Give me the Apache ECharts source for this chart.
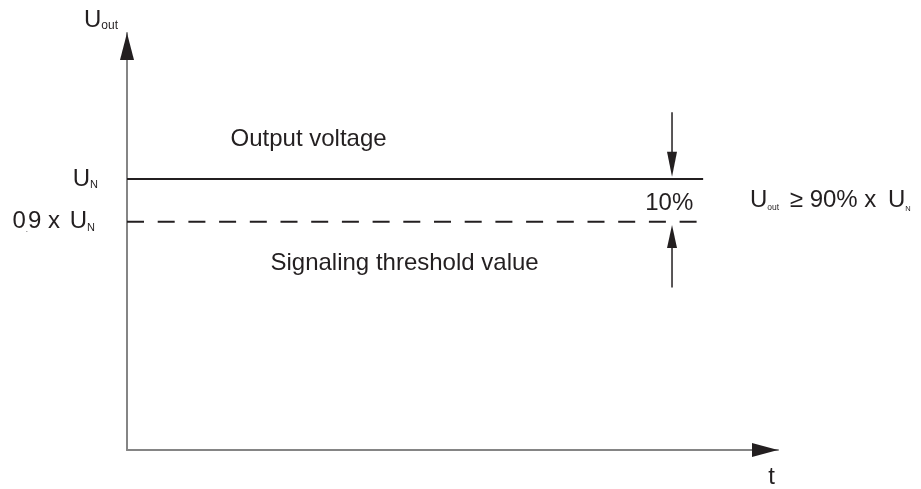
<!DOCTYPE html>
<html><head><meta charset="utf-8">
<script src="https://cdn.jsdelivr.net/npm/echarts@6/dist/echarts.min.js"></script>
<style>html,body{margin:0;padding:0;background:#fff}#c{width:921px;height:489px}</style>
</head><body><div id="c"></div>
<script>
// ---- Data (schematic units: time 0–100, voltage 0–100) ----
const tRange = [0, 100];
const uRange = [0, 100];
const levelValues = [54.75, 65];                 // 0.9 x U_N, U_N
const levelTickLabels = ['0.9 x U', 'U'];        // each followed by subscript N
const outputVoltage = [[0, 65], [88.5, 65]];
const signalingThreshold = [[0, 54.75], [87.55, 54.75]];
const markerShaftDown = [[83.72, 81.0], [83.72, 68.5]];
const markerShaftUp = [[83.72, 38.95], [83.72, 51.2]];
const markerHeadDown = [[83.72, 68.53]];
const markerHeadUp = [[83.72, 51.19]];
const yAxisHead = [[0, 96.77]];
const xAxisHead = [[98.0, 0]];
const timeLabelValues = [99.0];
const timeLabel = 't';
const yAxisTitle = ['U', 'out'];
const annotationTexts = ['Output voltage', 'Signaling threshold value', '10%'];
const conditionText = ['U', 'out', '\u2265', '90%', 'x', 'U', 'N'];

const FONT = "'Liberation Sans', Arial, Helvetica, sans-serif";
const INK = '#231f20';
const AXIS = '#858585';

const chart = echarts.init(document.getElementById('c'), null, {renderer: 'canvas'});

const richE = {
  u: {fontSize: 24, lineHeight: 24, fontFamily: FONT, color: INK},
  w: {fontSize: 24, lineHeight: 24, fontFamily: FONT, color: INK, padding: [0, 0, 0, 3]},
  s: {fontSize: 12, lineHeight: 12, fontFamily: FONT, color: INK, verticalAlign: 'bottom'},
  n: {fontSize: 11, lineHeight: 11, fontFamily: FONT, color: INK, verticalAlign: 'bottom'},
  m: {fontSize: 11, lineHeight: 11, fontFamily: FONT, color: INK, verticalAlign: 'bottom', padding: [0, 3, 0, 0]},
  d: {fontSize: 8, lineHeight: 8, fontFamily: FONT, color: INK, verticalAlign: 'bottom'}
};

function levelLabel(v) {
  const i = levelValues.indexOf(v);
  const txt = levelTickLabels[i];
  if (txt.indexOf('0.9') === 0) {
    const rest = txt.slice(2);               // '9 x U'
    const cut = rest.lastIndexOf(' ');
    return '{u|0}{d|.}{u|' + rest.slice(0, cut) + '}{w|' + rest.slice(cut) + '}{m|N}';
  }
  return '{u|' + txt + '}{n|N}';
}

const axisLine = {show: true, onZero: false, lineStyle: {color: AXIS, width: 2}};
const headStyle = {color: INK, opacity: 1};

chart.setOption({
  animation: false,
  backgroundColor: '#ffffff',
  grid: {left: 127, right: 143, top: 33, bottom: 35, containLabel: false},
  xAxis: {
    type: 'value', min: tRange[0], max: tRange[1],
    axisLine: axisLine, axisTick: {show: false}, splitLine: {show: false},
    axisLabel: {
      show: true, customValues: timeLabelValues, formatter: () => timeLabel,
      margin: 15, color: INK, fontSize: 24, fontFamily: FONT
    }
  },
  yAxis: {
    type: 'value', min: uRange[0], max: uRange[1],
    name: '{u|' + yAxisTitle[0] + '}{s|' + yAxisTitle[1] + '}',
    nameLocation: 'end', nameGap: 1,
    nameTextStyle: {align: 'right', verticalAlign: 'bottom', padding: [0, 9, 0, 0], rich: richE},
    axisLine: axisLine, axisTick: {show: false}, splitLine: {show: false},
    axisLabel: {show: true, customValues: levelValues, formatter: levelLabel, margin: 29, rich: richE}
  },
  series: [
    {type: 'line', name: 'Output voltage', data: outputVoltage, symbol: 'none', silent: true,
     lineStyle: {color: INK, width: 2}},
    {type: 'line', name: 'Signaling threshold value', data: signalingThreshold, symbol: 'none', silent: true,
     lineStyle: {color: INK, width: 2, type: [17, 13.7]}},
    {type: 'line', data: markerShaftDown, symbol: 'none', silent: true, lineStyle: {color: INK, width: 1.5}},
    {type: 'line', data: markerShaftUp, symbol: 'none', silent: true, lineStyle: {color: INK, width: 1.5}},
    {type: 'scatter', data: markerHeadDown, symbol: 'triangle', symbolSize: [10, 25], symbolRotate: 180,
     itemStyle: headStyle, silent: true, clip: false, z: 5},
    {type: 'scatter', data: markerHeadUp, symbol: 'triangle', symbolSize: [10, 23], symbolRotate: 0,
     itemStyle: headStyle, silent: true, clip: false, z: 5},
    {type: 'scatter', data: yAxisHead, symbol: 'triangle', symbolSize: [14, 27], symbolRotate: 0,
     itemStyle: headStyle, silent: true, clip: false, z: 5},
    {type: 'scatter', data: xAxisHead, symbol: 'triangle', symbolSize: [14, 26], symbolRotate: -90,
     itemStyle: headStyle, silent: true, clip: false, z: 5}
  ]
});

// Annotation text anchored in data coordinates
const richZ = {
  u: {fontSize: 24, lineHeight: 24, fontFamily: FONT, fill: INK},
  g: {fontSize: 24, lineHeight: 24, fontFamily: FONT, fill: INK, padding: [0, 0, 0, 4]},
  h: {fontSize: 24, lineHeight: 24, fontFamily: FONT, fill: INK, padding: [0, 0, 0, 5]},
  s: {fontSize: 8.5, lineHeight: 8.5, fontFamily: FONT, fill: INK, verticalAlign: 'bottom'},
  n: {fontSize: 7.5, lineHeight: 7.5, fontFamily: FONT, fill: INK, verticalAlign: 'bottom'}
};
const anchors = [[15.9, 74.55], [22.04, 44.87], [79.6, 59.1]];
const condAnchor = [95.7, 59.8];
const graphics = annotationTexts.map((t, i) => {
  const p = chart.convertToPixel({gridIndex: 0}, anchors[i]);
  return {type: 'text', x: p[0], y: p[1], silent: true, z: 10,
    style: {text: t, fontSize: 24, fontFamily: FONT, fill: INK, align: 'left', verticalAlign: 'middle'}};
});
const c = conditionText;
const cp = chart.convertToPixel({gridIndex: 0}, condAnchor);
graphics.push({type: 'text', x: cp[0], y: cp[1], silent: true, z: 10,
  style: {
    text: '{u|' + c[0] + '}{s|' + c[1] + '}{g| ' + c[2] + ' }{u|' + c[3] + ' ' + c[4] + '}{h| ' + c[5] + '}{n|' + c[6] + '}',
    rich: richZ, align: 'left', verticalAlign: 'middle', fill: INK
  }});
chart.setOption({graphic: graphics});
</script>
</body></html>
